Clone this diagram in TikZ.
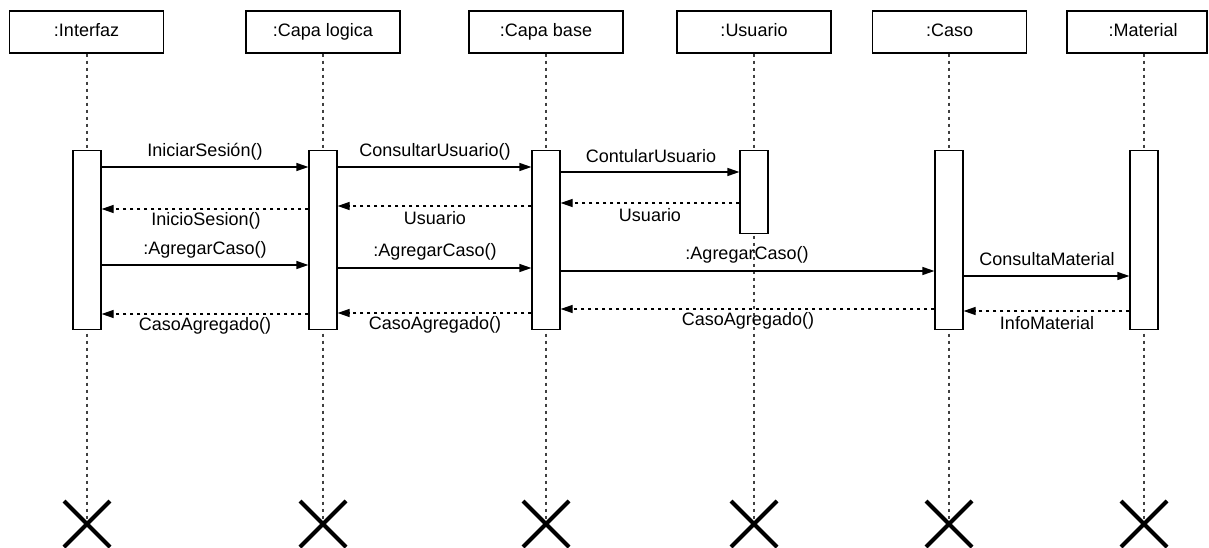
\documentclass[tikz,border=0pt]{standalone}
\usepackage{fontspec}
\setmainfont{Liberation Sans}
\usetikzlibrary{arrows.meta,calc}
\tikzset{
  objeto/.style={draw, line width=1.2pt, minimum width=154pt, minimum height=42pt, inner sep=0pt,
    text height=13pt, text depth=4pt},
  activ/.style={draw, fill=white, line width=1.2pt, minimum width=28pt, inner sep=0pt, anchor=north},
  vida/.style={line width=1.2pt, black!75, dash pattern=on 3pt off 4pt},
  msg/.style={line width=1.2pt, -{Triangle[length=12pt,width=8pt]}},
  ret/.style={line width=1.2pt, dash pattern=on 3pt off 4pt, -{Triangle[length=12pt,width=8pt]}},
  etq/.style={inner sep=0pt},
}
\begin{document}
\begin{tikzpicture}[x=1pt, y=-1pt, font=\fontsize{18}{21}\selectfont]
  \useasboundingbox (0,0) rectangle (1209,548);
  % objetos
  \node[objeto] (oI) at (86.5,32) {:Interfaz};
  \node[objeto] (oL) at (323,32) {:Capa logica};
  \node[objeto] (oB) at (546,32) {:Capa base};
  \node[objeto] (oU) at (754,32) {:Usuario};
  \node[objeto] (oC) at (949.5,32) {:Caso};
  \node[objeto, minimum width=140pt] (oM) at (1137,32) {\hspace*{12pt}:Material};
  % lineas de vida y fin
  \foreach \o/\x in {oI/87, oL/323, oB/546, oU/754, oC/949, oM/1144}{
    \coordinate (f\o) at (\x,524);
    \draw[vida] (\o.south -| f\o) -- (f\o);
    \draw[line width=4pt] ($(f\o)+(-23,-23)$) -- ($(f\o)+(23,23)$)
      ($(f\o)+(-23,23)$) -- ($(f\o)+(23,-23)$);
  }
  % activaciones
  \node[activ, minimum height=179pt] (aI) at (87,150) {};
  \node[activ, minimum height=179pt] (aL) at (323,150) {};
  \node[activ, minimum height=179pt] (aB) at (546,150) {};
  \node[activ, minimum height=83pt]  (aU) at (754,150) {};
  \node[activ, minimum height=179pt] (aC) at (949,150) {};
  \node[activ, minimum height=179pt] (aM) at (1144,150) {};
  % mensajes
  \draw[msg] (aI.east |- 0,167) -- (aL.west |- 0,167);
  \node[etq] (m1) at (205,152) {IniciarSesión()};
  \draw[msg] (aL.east |- 0,167) -- (aB.west |- 0,167);
  \node[etq] (m2) at (435,152) {ConsultarUsuario()};
  \draw[msg] (aB.east |- 0,172) -- (aU.west |- 0,172);
  \node[etq] (m3) at (651,156) {ContularUsuario};
  \draw[ret] (aU.west |- 0,203) -- (aB.east |- 0,203);
  \node[etq] (r3) at (650,215) {Usuario};
  \draw[ret] (aB.west |- 0,206) -- (aL.east |- 0,206);
  \node[etq] (r2) at (435,218) {Usuario};
  \draw[ret] (aL.west |- 0,209) -- (aI.east |- 0,209);
  \node[etq] (r1) at (206,221) {InicioSesion()};
  \draw[msg] (aI.east |- 0,265) -- (aL.west |- 0,265);
  \node[etq] (m4) at (205,250) {:AgregarCaso()};
  \draw[msg] (aL.east |- 0,268) -- (aB.west |- 0,268);
  \node[etq] (m5) at (435,252) {:AgregarCaso()};
  \draw[msg] (aB.east |- 0,271) -- (aC.west |- 0,271);
  \node[etq] (m6) at (747,255) {:AgregarCaso()};
  \draw[msg] (aC.east |- 0,276) -- (aM.west |- 0,276);
  \node[etq] (m7) at (1047,259) {ConsultaMaterial};
  \draw[ret] (aM.west |- 0,311) -- (aC.east |- 0,311);
  \node[etq] (r7) at (1047,323) {InfoMaterial};
  \draw[ret] (aC.west |- 0,309) -- (aB.east |- 0,309);
  \node[etq] (r6) at (748,321) {CasoAgregado()};
  \draw[ret] (aB.west |- 0,313) -- (aL.east |- 0,313);
  \node[etq] (r5) at (435,325) {CasoAgregado()};
  \draw[ret] (aL.west |- 0,314) -- (aI.east |- 0,314);
  \node[etq] (r4) at (205,326) {CasoAgregado()};
\end{tikzpicture}
\end{document}
